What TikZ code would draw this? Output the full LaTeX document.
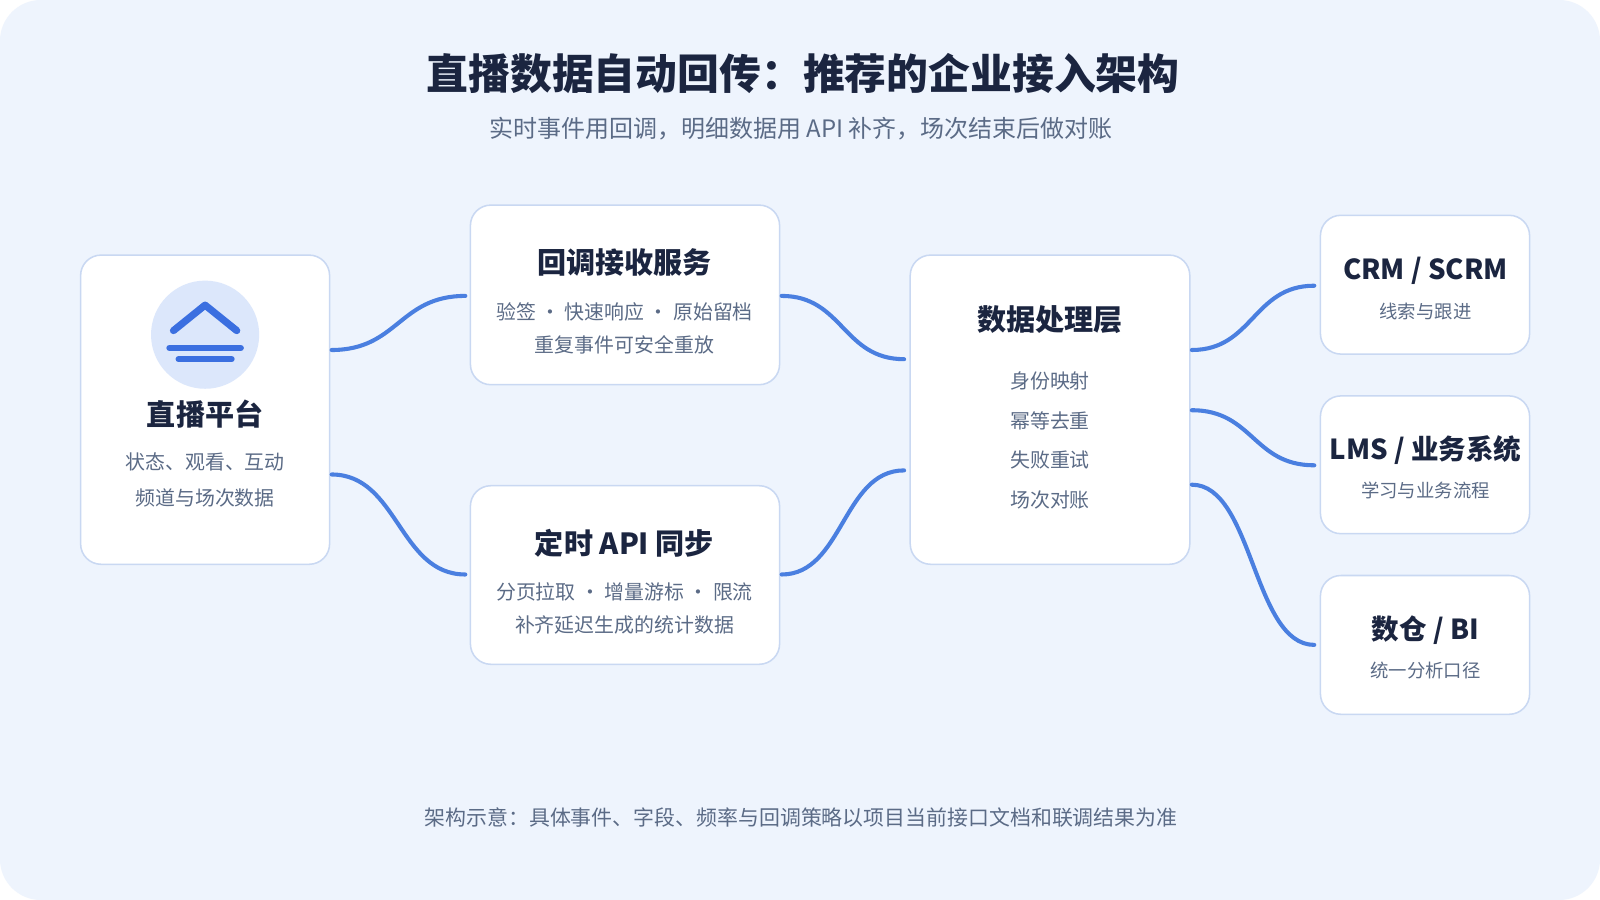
\documentclass[tikz,border=0pt]{standalone}
\usepackage{fontspec}
\setmainfont{Noto Sans CJK SC}
\begin{document}
\begin{tikzpicture}[x=1pt,y=-1pt,
  box/.style={draw=bord,line width=1.5pt,fill=white,rounded corners=20pt},
  ttl/.style={text=ink,font=\fontsize{28.5}{32}\selectfont\bfseries},
  rttl/.style={text=ink,font=\fontsize{27}{30}\selectfont\bfseries},
  txt/.style={text=gray1,font=\fontsize{19.5}{22}\selectfont},
  con/.style={draw=blue1,line width=4pt,line cap=round}]
\definecolor{bg}{HTML}{EEF4FD}
\definecolor{bord}{HTML}{C9D8F2}
\definecolor{ink}{HTML}{1B2540}
\definecolor{gray1}{HTML}{5B6B86}
\definecolor{blue1}{HTML}{4A7FE0}
\definecolor{icon}{HTML}{3B6FE0}
\definecolor{iconbg}{HTML}{DCE7FB}
\useasboundingbox (0,0) rectangle (1568,882);
\fill[white] (0,0) rectangle (1568,882);
\fill[bg,rounded corners=40pt] (0,0) rectangle (1568,882);
\node[text=ink,font=\fontsize{41}{45}\selectfont\bfseries] (title) at (787,72) {直播数据自动回传：推荐的企业接入架构};
\node[text=gray1,font=\fontsize{23.5}{26}\selectfont] (sub) at (785,126) {实时事件用回调，明细数据用 API 补齐，场次结束后做对账};
\node[text=gray1,font=\fontsize{20.5}{24}\selectfont] (foot) at (785,801) {架构示意：具体事件、字段、频率与回调策略以项目当前接口文档和联调结果为准};
% boxes
\draw[box] (79,250) rectangle (323,553);
\draw[box] (461,201) rectangle (764,377);
\draw[box] (461,476) rectangle (764,651);
\draw[box] (892,250) rectangle (1166,553);
\draw[box] (1294,211) rectangle (1499,347);
\draw[box] (1294,388) rectangle (1499,523);
\draw[box] (1294,564) rectangle (1499,700);
% icon
\fill[iconbg] (201,328) circle (53);
\draw[icon,line width=7pt,line cap=round,line join=round] (170,324) -- (201,299) -- (232,324);
\draw[icon,line width=6pt,line cap=round] (166,341) -- (236,341);
\draw[icon,line width=6pt,line cap=round] (175,352) -- (227,352);
% texts
\node[ttl] (p) at (201,406) {直播平台};
\node[txt] (p1) at (201,453) {状态、观看、互动};
\node[txt] (p2) at (201,488) {频道与场次数据};
\node[ttl] (cb) at (612,257) {回调接收服务};
\node[txt] (cb1) at (612,306) {验签 · 快速响应 · 原始留档};
\node[txt] (cb2) at (612,338) {重复事件可安全重放};
\node[ttl] (api) at (612,532) {定时 API 同步};
\node[txt] (api1) at (612,580) {分页拉取 · 增量游标 · 限流};
\node[txt] (api2) at (612,612) {补齐延迟生成的统计数据};
\node[ttl] (dp) at (1029,313) {数据处理层};
\node[txt] (d1) at (1029,373) {身份映射};
\node[txt] (d2) at (1029,412) {幂等去重};
\node[txt] (d3) at (1029,451) {失败重试};
\node[txt] (d4) at (1029,490) {场次对账};
\node[rttl] (crm) at (1397,265) {CRM / SCRM};
\node[txt,font=\fontsize{18}{22}\selectfont] (crm1) at (1397,305) {线索与跟进};
\node[rttl] (lms) at (1397,441) {LMS / 业务系统};
\node[txt,font=\fontsize{18}{22}\selectfont] (lms1) at (1397,481) {学习与业务流程};
\node[rttl] (bi) at (1397,618) {数仓 / BI};
\node[txt,font=\fontsize{18}{22}\selectfont] (bi1) at (1397,657) {统一分析口径};
% connector ends
\coordinate (a1) at (325,343); \coordinate (a2) at (456,290);
\coordinate (b1) at (325,465); \coordinate (b2) at (456,563);
\coordinate (c1) at (766,290); \coordinate (c2) at (886,352);
\coordinate (e1) at (766,563); \coordinate (e2) at (886,461);
\coordinate (f1) at (1168,343); \coordinate (f2) at (1288,280);
\coordinate (g1) at (1168,402); \coordinate (g2) at (1288,456);
\coordinate (h1) at (1168,475); \coordinate (h2) at (1288,632);
\draw[con] (a1) .. controls +(65,0) and +(-65,0) .. (a2);
\draw[con] (b1) .. controls +(65,0) and +(-65,0) .. (b2);
\draw[con] (c1) .. controls +(60,0) and +(-60,0) .. (c2);
\draw[con] (e1) .. controls +(60,0) and +(-60,0) .. (e2);
\draw[con] (f1) .. controls +(60,0) and +(-60,0) .. (f2);
\draw[con] (g1) .. controls +(60,0) and +(-60,0) .. (g2);
\draw[con] (h1) .. controls +(60,0) and +(-60,0) .. (h2);
\end{tikzpicture}
\end{document}
